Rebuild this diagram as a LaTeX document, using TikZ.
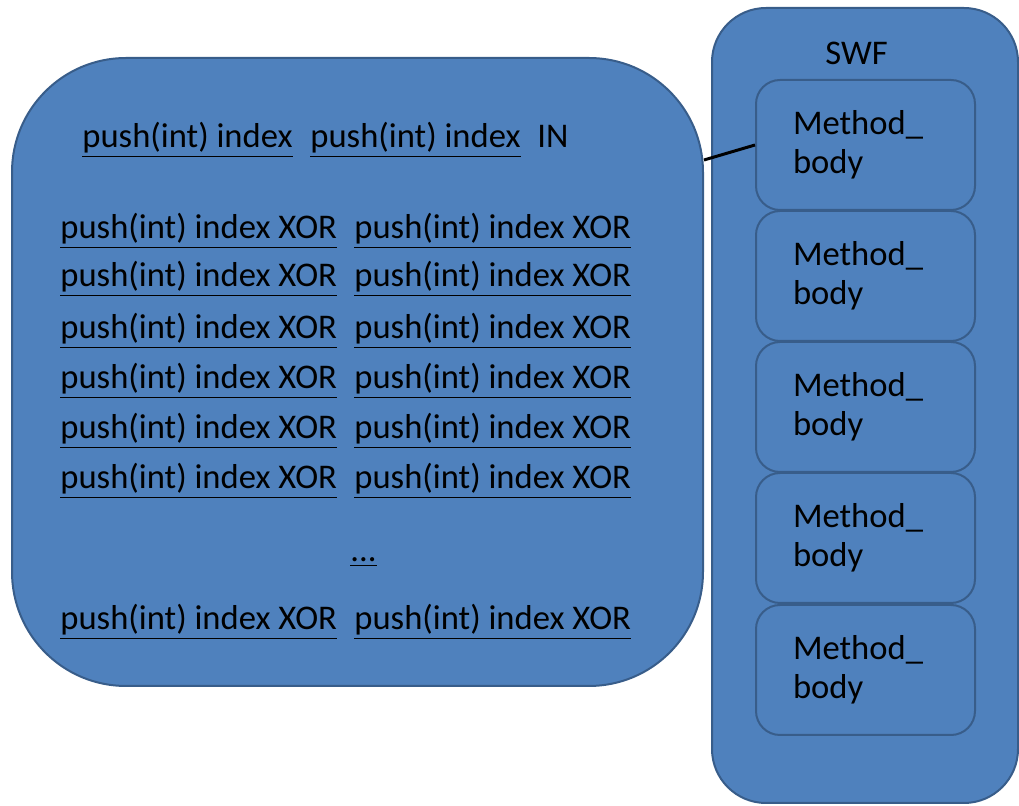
\documentclass[tikz,border=0pt]{standalone}
\usepackage{fontspec}
\setmainfont{Carlito}
\definecolor{officeblue}{HTML}{4F81BD}
\definecolor{officeedge}{HTML}{385D8A}
\tikzset{
  panel/.style={draw=officeedge, fill=officeblue, line width=1pt},
  bodybox/.style={panel, rounded corners=12pt, minimum width=109.5pt, minimum height=65pt,
    text width=72.5pt, inner xsep=0pt, align=left},
  codeline/.style={anchor=base west, inner sep=0pt},
}
\begin{document}
\begin{tikzpicture}[x=0.5pt, y=-0.5pt, font=\fontsize{17.3}{19.5}\selectfont]
  \useasboundingbox (0,0) rectangle (1019,806);

  % Draw the two panels
  \node[panel, rounded corners=57pt, minimum width=345.5pt, minimum height=314pt] (code) at (357.5,372) {};
  \node[panel, rounded corners=27pt, minimum width=153pt, minimum height=397.5pt] (swf) at (865,405.5) {};
  \node[codeline] (swflabel) at (825,65) {SWF};

  % Method bodies stacked in the SWF panel
  \foreach \i/\y in {1/145, 2/276, 3/407, 4/538, 5/670}
    \node[bodybox] (body\i) at (865.5,\y) {Method\_\\body};

  % Header line
  \node[codeline] (head1) at (82,148) {\underline{push(int) index}};
  \node[codeline] (head2) at (310,148) {\underline{push(int) index}};
  \node[codeline] (headin) at (537,148) {IN};

  % XOR lines
  \foreach \i/\y in {1/239, 2/287, 3/339, 4/389, 5/439, 6/489, 7/630}
  {
    \node[codeline] (xa\i) at (60,\y) {\underline{push(int) index XOR}};
    \node[codeline] (xb\i) at (354,\y) {\underline{push(int) index XOR}};
  }
  \node[codeline] (dots) at (350,562) {\underline{...}};

  % Link from the code panel to the first method body
  \draw[line width=1.5pt] (code.east |- 0,160) -- (body1.west);
\end{tikzpicture}
\end{document}
